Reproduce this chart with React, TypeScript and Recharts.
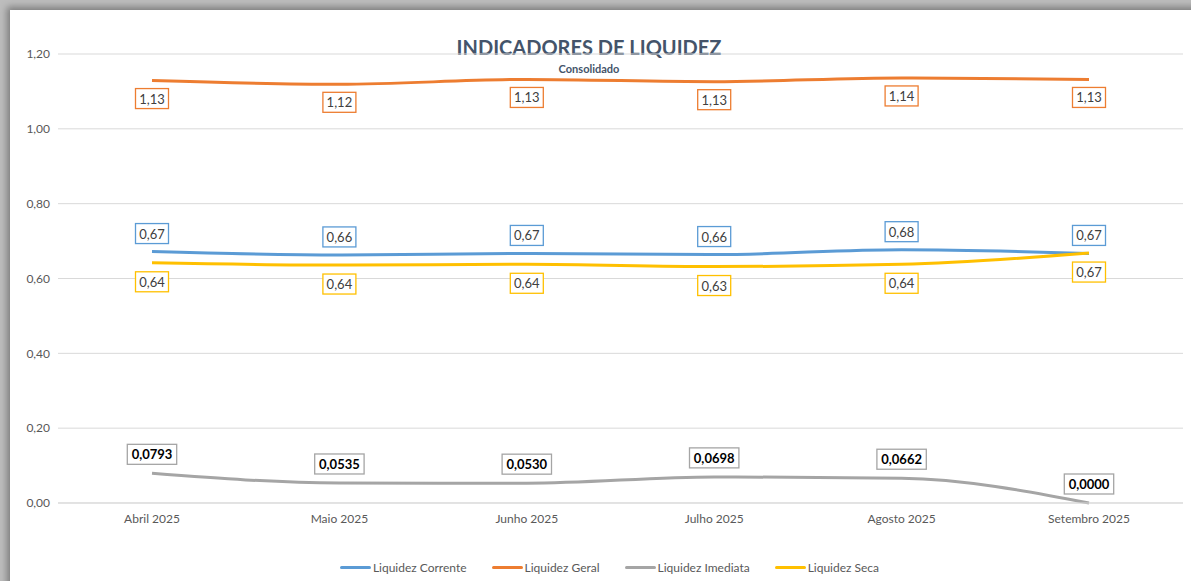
import React from 'react';
import { LineChart, Line, XAxis, YAxis, CartesianGrid, Legend } from 'recharts';

const months = ['Abril 2025', 'Maio 2025', 'Junho 2025', 'Julho 2025', 'Agosto 2025', 'Setembro 2025'];
const corrente = [0.672, 0.663, 0.667, 0.664, 0.677, 0.667];
const geral = [1.129, 1.119, 1.132, 1.126, 1.136, 1.132];
const imediata = [0.0793, 0.0535, 0.053, 0.0698, 0.0662, 0.0];
const seca = [0.642, 0.636, 0.638, 0.632, 0.638, 0.668];
const yTicks = [0, 0.2, 0.4, 0.6, 0.8, 1.0, 1.2];

const data = months.map((m, i) => ({
  month: m,
  corrente: corrente[i],
  geral: geral[i],
  imediata: imediata[i],
  seca: seca[i],
}));

const FONT = 'Lato, "Open Sans", sans-serif';

const series = [
  { key: 'corrente', name: 'Liquidez Corrente', color: '#5b9bd5', dy: -18, digits: 2, bold: false },
  { key: 'geral', name: 'Liquidez Geral', color: '#ed7d31', dy: 18, digits: 2, bold: false },
  { key: 'imediata', name: 'Liquidez Imediata', color: '#a5a5a5', dy: -19, digits: 4, bold: true },
  { key: 'seca', name: 'Liquidez Seca', color: '#ffc000', dy: 19, digits: 2, bold: false },
];

const fmt = (v: number, d: number) => v.toFixed(d).replace('.', ',');

const BoxLabel = (props: any) => {
  const { x, y, value, color, dy, digits, bold } = props;
  if (x == null || y == null) return null;
  const text = fmt(Number(value), digits);
  const w = text.length * (bold ? 7.4 : 7) + 5;
  const h = 20;
  const cy = y + dy;
  return (
    <g>
      <rect x={x - w / 2} y={cy - h / 2} width={w} height={h} fill="#fff" stroke={color} strokeWidth={1.3} />
      <text
        x={x}
        y={cy}
        textAnchor="middle"
        dominantBaseline="central"
        fontSize={13}
        fontFamily={FONT}
        fontWeight={bold ? 700 : 400}
        fill={bold ? '#000' : '#404040'}
      >
        {text}
      </text>
    </g>
  );
};

const LegendContent = () => (
  <div style={{ height: 20, display: 'flex', justifyContent: 'center', alignItems: 'center', gap: 25, paddingLeft: 26, fontFamily: FONT, fontSize: 12, color: '#595959' }}>
    {series.map(s => (
      <div key={s.key} style={{ display: 'flex', alignItems: 'center' }}>
        <span style={{ display: 'inline-block', width: 31, height: 3, borderRadius: 2, background: s.color, marginRight: 2 }} />
        {s.name}
      </div>
    ))}
  </div>
);

const App: React.FC = () => {
  return (
    <div style={{ position: 'absolute', left: 0, top: 0, width: 1191, height: 581, background: '#bdbdbd', overflow: 'hidden' }}>
      <div style={{ position: 'absolute', left: 10, top: 10, width: 1200, height: 600, background: '#fff', boxShadow: '0 0 7px 3px rgba(0,0,0,0.35)' }}>
        <div style={{ position: 'absolute', left: 0, top: 24, width: 1158, textAlign: 'center', fontFamily: FONT, fontWeight: 700, fontSize: 20, color: '#44546a', lineHeight: '26px' }}>
          INDICADORES DE LIQUIDEZ
        </div>
        <div style={{ position: 'absolute', left: 0, top: 52, width: 1158, textAlign: 'center', fontFamily: FONT, fontWeight: 700, fontSize: 11, color: '#44546a', lineHeight: '14px' }}>
          Consolidado
        </div>
        <LineChart width={1181} height={571} data={data} margin={{ top: 44, right: 8, left: 0, bottom: 4 }}>
          <CartesianGrid vertical={false} stroke="#d9d9d9" />
          <XAxis
            dataKey="month"
            height={54}
            padding={{ left: 94, right: 94 }}
            tickLine={false}
            axisLine={{ stroke: '#d9d9d9' }}
            tick={{ fill: '#595959', fontSize: 12, fontFamily: FONT, dy: 3 }}
            interval={0}
          />
          <YAxis
            width={48}
            domain={[0, 1.2]}
            ticks={yTicks}
            tickFormatter={(v: number) => fmt(v, 2)}
            axisLine={false}
            tickLine={false}
            tick={{ fill: '#595959', fontSize: 12, fontFamily: FONT }}
          />
          <Legend verticalAlign="bottom" content={<LegendContent />} />
          {series.map(s => (
            <Line
              key={s.key}
              type="monotone"
              dataKey={s.key}
              name={s.name}
              stroke={s.color}
              strokeWidth={3}
              dot={false}
              isAnimationActive={false}
              label={<BoxLabel color={s.color} dy={s.dy} digits={s.digits} bold={s.bold} />}
            />
          ))}
        </LineChart>
      </div>
    </div>
  );
};

export default App;
